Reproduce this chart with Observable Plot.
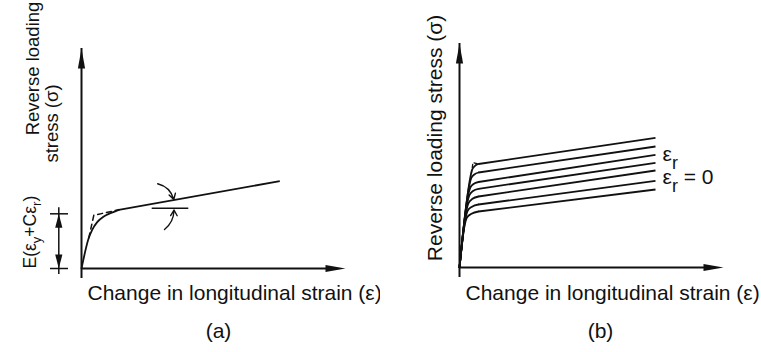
<!DOCTYPE html>
<html><head><meta charset="utf-8">
<script src="https://cdn.jsdelivr.net/npm/d3@7"></script>
<script src="https://cdn.jsdelivr.net/npm/@observablehq/plot@0.6"></script>
<style>
html,body{margin:0;padding:0;background:#fff;}
#wrap{display:flex;width:761px;height:352px;overflow:hidden;}
svg{display:block;overflow:visible}
</style></head><body><div id="wrap"></div>
<script>
// ---------- Panel (a) data (normalised strain / stress units) ----------
const aStrain = [0, 2.77, 4.05, 5.95, 8.45, 10.98, 14.13, 75.11];
const aStress = [0, 13.95, 17.59, 21.05, 23.64, 25.14, 26.68, 39.68];
const aDashStrain = [2.77, 4.66, 14.13];
const aDashStress = [13.95, 24.18, 26.68];
const aRefStrain = [26.78, 40.64];
const aRefStress = 27.41;
const aArrowTop = {x1: 28.86, y1: 38.5, x2: 34.96, y2: 31.36};
const aArrowBottom = {x1: 31.44, y1: 17.73, x2: 35.04, y2: 26.59};
const aDimStrain = -8.6;
const aDimStress = [0, 24.86];
const aDimCap = [-11.74, -4.92];

// ---------- Panel (b) data ----------
const bStrain = [
  [0, 1.86, 2.84, 4.55, 7.20, 74.24],
  [0, 2.20, 3.14, 4.73, 7.20, 74.24],
  [0, 2.58, 3.41, 4.92, 7.20, 74.24],
  [0, 2.95, 3.79, 5.11, 7.20, 74.24],
  [0, 3.33, 4.09, 5.30, 7.20, 74.24],
  [0, 3.79, 4.47, 5.61, 7.20, 74.24],
  [0, 4.17, 4.73, 5.87, 7.20, 74.24]
];
const bStress = [
  [0, 18.30, 22.32, 23.97, 25.00, 34.82],
  [0, 21.43, 25.45, 27.14, 28.13, 38.71],
  [0, 25.45, 28.79, 30.67, 31.70, 43.30],
  [0, 29.02, 32.37, 34.15, 35.13, 46.74],
  [0, 32.59, 35.71, 37.28, 38.17, 50.31],
  [0, 37.05, 39.96, 41.52, 42.41, 54.02],
  [0, 40.63, 43.53, 45.40, 46.21, 57.90]
];
const bDashStrain = [4.5, 5.1, 7.2];
const bDashStress = [42.0, 46.8, 46.21];

// ---------- Text ----------
const xTitle = "Change in longitudinal strain (ε)";
const aYTitle = ["Reverse loading", "stress (σ)"];
const aDimLabel = "E(ε_y+Cε_r)";
const bYTitle = "Reverse loading stress (σ)";
const bCurveLabels = ["ε_r", "ε_r = 0"];
const panelTags = ["(a)", "(b)"];

const ink = "#111";
const font = "'Liberation Sans', Arial, Helvetica, sans-serif";

function head(len, half) {
  return {draw(ctx) { ctx.moveTo(0, 0); ctx.lineTo(half, len); ctx.lineTo(-half, len); ctx.closePath(); }};
}
const axisHead = head(20, 3.6);
const dimHead = head(14, 3.6);

function rows(xs, ys) { return xs.map((x, i) => ({x, y: ys[i]})); }

function axes() {
  return [
    Plot.ruleX([0], {y1: 0, y2: 100, stroke: ink, strokeWidth: 2, insetTop: 10}),
    Plot.ruleY([0], {x1: 0, x2: 100, stroke: ink, strokeWidth: 2, insetRight: 10}),
    Plot.dot([{x: 0, y: 100}], {x: "x", y: "y", symbol: axisHead, fill: ink, stroke: null}),
    Plot.dot([{x: 100, y: 0}], {x: "x", y: "y", symbol: axisHead, rotate: 90, fill: ink, stroke: null})
  ];
}

// split each curve into its rounded knee and its straight hardening branch
const aKnee = rows(aStrain, aStress).slice(0, -1);
const aBranch = [{x1: aStrain.at(-2), y1: aStress.at(-2), x2: aStrain.at(-1), y2: aStress.at(-1)}];

const plotA = Plot.plot({
  width: 380, height: 352,
  marginLeft: 81, marginRight: 35, marginTop: 48, marginBottom: 84,
  x: {domain: [0, 100], axis: null},
  y: {domain: [0, 100], axis: null},
  style: {fontFamily: font, background: "white", color: ink},
  marks: [
    ...axes(),
    Plot.line(aKnee, {x: "x", y: "y", curve: "monotone-x", stroke: ink, strokeWidth: 1.8}),
    Plot.link(aBranch, {x1: "x1", y1: "y1", x2: "x2", y2: "y2", stroke: ink, strokeWidth: 1.8}),
    Plot.line(rows(aDashStrain, aDashStress), {x: "x", y: "y", stroke: ink, strokeWidth: 1.5, strokeDasharray: "5,4"}),
    Plot.ruleY([aRefStress], {x1: aRefStrain[0], x2: aRefStrain[1], stroke: ink, strokeWidth: 1.6}),
    Plot.arrow([aArrowTop], {x1: "x1", y1: "y1", x2: "x2", y2: "y2", bend: 30, headLength: 7, stroke: ink, strokeWidth: 1.4}),
    Plot.arrow([aArrowBottom], {x1: "x1", y1: "y1", x2: "x2", y2: "y2", bend: -25, headLength: 7, stroke: ink, strokeWidth: 1.4}),
    // dimension arrow E(...)
    Plot.ruleX([aDimStrain], {y1: aDimStress[0], y2: aDimStress[1], stroke: ink, strokeWidth: 1.5, insetTop: 6, insetBottom: 6}),
    Plot.ruleY(aDimStress, {x1: aDimCap[0], x2: aDimCap[1], stroke: ink, strokeWidth: 1.5}),
    Plot.dot([{x: aDimStrain, y: aDimStress[1]}], {x: "x", y: "y", symbol: dimHead, fill: ink, stroke: null}),
    Plot.dot([{x: aDimStrain, y: aDimStress[0]}], {x: "x", y: "y", symbol: dimHead, rotate: 180, fill: ink, stroke: null}),
    // texts
    Plot.text([aYTitle[0]], {text: d => d, frameAnchor: "top-left", rotate: -90, dx: -48, dy: 20, fontSize: 18.5, textAnchor: "middle", lineAnchor: "middle", fill: ink}),
    Plot.text([aYTitle[1]], {text: d => d, frameAnchor: "top-left", rotate: -90, dx: -29, dy: 75, fontSize: 18.5, textAnchor: "middle", lineAnchor: "middle", fill: ink}),
    Plot.text([aDimLabel], {text: d => d, frameAnchor: "bottom-left", rotate: -90, dx: -51, dy: 0, fontSize: 17.5, textAnchor: "start", lineAnchor: "middle", fill: ink}),
    Plot.text([xTitle], {text: d => d, frameAnchor: "bottom-left", dx: 6, dy: 25, fontSize: 21, textAnchor: "start", lineAnchor: "middle", fill: ink}),
    Plot.text([panelTags[0]], {text: d => d, frameAnchor: "bottom-left", dx: 137, dy: 63, fontSize: 21, textAnchor: "middle", lineAnchor: "middle", fill: ink})
  ]
});

const bKnees = bStrain.flatMap((xs, k) => xs.slice(0, -1).map((x, i) => ({x, y: bStress[k][i], k})));
const bBranches = bStrain.map((xs, k) => ({x1: xs.at(-2), y1: bStress[k].at(-2), x2: xs.at(-1), y2: bStress[k].at(-1)}));

const plotB = Plot.plot({
  width: 381, height: 352,
  marginLeft: 79, marginRight: 38, marginTop: 43, marginBottom: 85,
  x: {domain: [0, 100], axis: null},
  y: {domain: [0, 100], axis: null},
  style: {fontFamily: font, background: "white", color: ink},
  marks: [
    ...axes(),
    Plot.line(bKnees, {x: "x", y: "y", z: "k", curve: "monotone-x", stroke: ink, strokeWidth: 1.8}),
    Plot.link(bBranches, {x1: "x1", y1: "y1", x2: "x2", y2: "y2", stroke: ink, strokeWidth: 1.8}),
    Plot.line(rows(bDashStrain, bDashStress), {x: "x", y: "y", stroke: ink, strokeWidth: 1.3, strokeDasharray: "3,3"}),
    Plot.text([bYTitle], {text: d => d, frameAnchor: "top-left", rotate: -90, dx: -24, dy: 94.5, fontSize: 21, textAnchor: "middle", lineAnchor: "middle", fill: ink}),
    Plot.text([bCurveLabels[0]], {text: d => d, frameAnchor: "top-left", dx: 203, dy: 111, fontSize: 21, textAnchor: "start", lineAnchor: "middle", fill: ink}),
    Plot.text([bCurveLabels[1]], {text: d => d, frameAnchor: "top-left", dx: 203, dy: 134, fontSize: 21, textAnchor: "start", lineAnchor: "middle", fill: ink}),
    Plot.text([xTitle], {text: d => d, frameAnchor: "bottom-left", dx: 6, dy: 26, fontSize: 21, textAnchor: "start", lineAnchor: "middle", fill: ink}),
    Plot.text([panelTags[1]], {text: d => d, frameAnchor: "bottom-left", dx: 141, dy: 64, fontSize: 21, textAnchor: "middle", lineAnchor: "middle", fill: ink})
  ]
});

const wrap = document.getElementById("wrap");
wrap.appendChild(plotA);
wrap.appendChild(plotB);

// turn "_x" into a subscript tspan
function subscripts(svg, shiftEm, scale) {
  const ns = "http://www.w3.org/2000/svg";
  svg.querySelectorAll("text").forEach(t => {
    const s = t.textContent;
    if (!s.includes("_")) return;
    const fs = parseFloat(getComputedStyle(t).fontSize);
    const shift = fs * shiftEm;
    const parts = [];
    let buf = "";
    for (let i = 0; i < s.length; i++) {
      if (s[i] === "_") { if (buf) parts.push({text: buf, sub: false}); buf = ""; parts.push({text: s[i + 1], sub: true}); i++; }
      else buf += s[i];
    }
    if (buf) parts.push({text: buf, sub: false});
    t.textContent = "";
    let prevSub = false;
    for (const p of parts) {
      const ts = document.createElementNS(ns, "tspan");
      ts.textContent = p.text;
      if (p.sub) { ts.setAttribute("dy", shift); ts.setAttribute("font-size", fs * scale); }
      else if (prevSub) ts.setAttribute("dy", -shift);
      t.appendChild(ts);
      prevSub = p.sub;
    }
  });
}
subscripts(plotA, 0.3, 0.75);
subscripts(plotB, 0.38, 0.85);
</script>
</body></html>
